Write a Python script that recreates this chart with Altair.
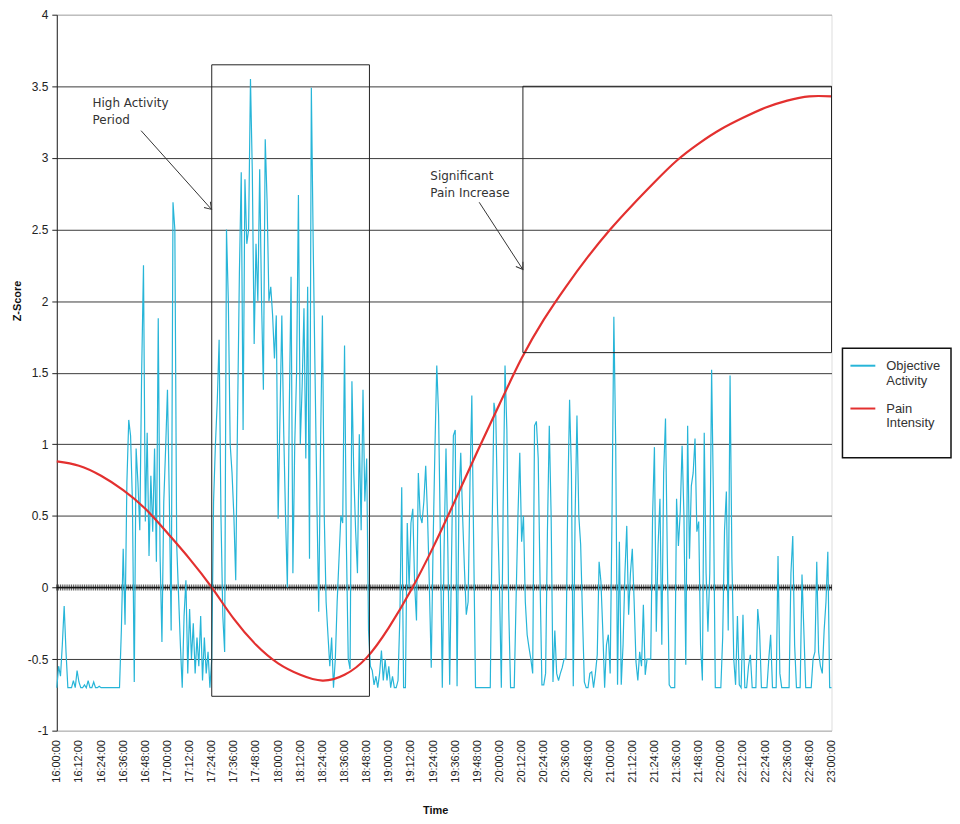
import json
import altair as alt
import pandas as pd

# ---------------- data ----------------
# one activity reading per minute, 16:00 .. 23:00 (minute index 0..420)
ACTIVITY = [
    -0.70, -0.55, -0.62, -0.40, -0.13, -0.45, -0.70, -0.70, -0.70, -0.65, -0.70, -0.58, -0.66,
    -0.70, -0.70, -0.68, -0.70, -0.65, -0.70, -0.70, -0.66, -0.70, -0.70, -0.69, -0.70,
    -0.70, -0.70, -0.70, -0.70, -0.70, -0.70, -0.70, -0.70, -0.70, -0.70,
    -0.30,
    0.27, -0.26, 0.73, 1.17, 1.06, 0.60, -0.66, 0.97, 0.73, 0.40, 1.50, 2.25,
    0.46, 1.08, 0.22, 0.78, 0.39, 0.97, 0.18, 1.88, 0.22, -0.38, 0.60, 0.97,
    1.38, 0.62, -0.30, 2.69, 2.50, 0.30, -0.05, -0.40, -0.70, -0.20, 0.05, -0.60,
    -0.15, -0.50, -0.25, -0.60, -0.35, -0.55, -0.20, -0.65, -0.35, -0.60, -0.45, -0.70,
    -0.50, 0.60, 1.00, 1.30, 1.73, 0.50, -0.20, -0.45, 2.50, 2.00, 1.00, 0.80,
    0.50, 0.05, 1.20, 2.20, 2.90, 1.10, 2.85, 2.40, 2.50, 3.55, 2.90, 1.70,
    2.40, 2.00, 2.92, 2.00, 1.38, 3.13, 2.70, 2.00, 2.10, 1.90, 1.60, 1.90,
    0.48, 1.20, 1.90, 1.10, 0.50, 0.00, 1.20, 2.17, 0.10, 1.00, 1.50, 2.74,
    1.00, 1.40, 1.95, 0.90, 2.10, 0.20, 3.49, 2.40, 1.50, 0.60, -0.17, 1.00,
    1.90, 0.50, -0.10, -0.33, -0.55, -0.35, -0.70, -0.50, -0.10, 0.20, 0.50, 0.45,
    1.69, 0.30, -0.50, -0.57, 1.44, 0.80, 0.40, 0.10, 1.07, 0.40, 1.38, 0.60,
    0.90, -0.30, -0.55, -0.58, -0.68, -0.62, -0.70, -0.60, -0.44, -0.65, -0.50, -0.65,
    -0.55, -0.70, -0.62, -0.70, -0.70, -0.65, -0.20, 0.70, -0.70, -0.70, 0.45, 0.00,
    0.45, 0.55, 0.02, -0.23, 0.80, 0.50, 0.45, 0.60, 0.85, 0.50, 0.00, -0.56,
    0.30, 0.97, 1.55, 1.20, 0.30, -0.70, 0.30, 0.97, 0.27, -0.68, 0.20, 1.06,
    1.10, -0.69, 0.60, 0.94, 0.50, 0.13, -0.19, -0.10, 0.73, 1.34, 0.30, -0.70,
    -0.70, -0.70, -0.70, -0.70, -0.70, -0.70, -0.70, -0.70, 0.40, 1.29, 1.20, 0.50,
    0.00, -0.70, 0.60, 1.55, 1.10, -0.15, -0.70, -0.70, -0.70, -0.08, 0.50, 0.94,
    0.32, 0.50, -0.10, -0.33, -0.42, -0.50, -0.60, 1.13, 1.16, 0.90, 0.04, -0.68,
    -0.68, -0.60, 0.40, 1.13, 0.50, -0.66, -0.30, -0.60, -0.65, -0.60, -0.56, -0.50,
    -0.50, 0.60, 1.31, 0.80, -0.69, 0.50, 1.20, 0.50, 0.30, -0.20, -0.66, -0.70,
    -0.70, -0.60, -0.59, -0.70, -0.60, -0.47, 0.18, 0.04, -0.30, -0.70, -0.40, -0.33,
    -0.60, 0.50, 1.89, 1.00, -0.68, 0.32, -0.68, -0.40, 0.10, 0.43, -0.19, 0.10,
    0.27, -0.10, -0.52, -0.65, -0.45, -0.55, -0.12, -0.61, -0.50, -0.50, -0.50, 0.50,
    0.98, -0.31, 0.30, 0.62, -0.40, 0.80, 1.18, 0.20, -0.68, -0.70, -0.70, -0.70,
    0.62, 0.29, 0.53, 0.99, 0.50, -0.54, 1.13, 0.20, 0.71, 0.80, 1.04, 0.39,
    0.46, -0.40, -0.65, 1.08, 0.10, -0.31, 0.10, 1.52, 0.60, -0.70, -0.70, -0.70,
    -0.70, -0.35, 0.40, 0.67, -0.30, 1.48, 0.20, -0.50, -0.68, -0.20, -0.68, -0.70,
    -0.19, -0.70, -0.70, -0.55, -0.47, -0.70, -0.70, -0.70, -0.15, -0.30, -0.70, -0.70,
    -0.70, -0.70, -0.50, -0.33, -0.70, -0.70, -0.70, 0.22, -0.60, -0.70, -0.70, -0.70,
    -0.70, -0.70, 0.10, 0.36, -0.40, -0.70, -0.70, -0.70, 0.09, -0.30, -0.70, -0.70,
    -0.70, -0.70, -0.50, -0.45, 0.18, -0.45, -0.55, -0.60, -0.30, -0.10, 0.25, -0.70, -0.70,
]
MINUTES = list(range(len(ACTIVITY)))

# pain intensity every 12 minutes
PAIN_MINUTES = list(range(0, 421, 12))
PAIN = [0.88, 0.85, 0.78, 0.68, 0.55, 0.38, 0.20, 0.00, -0.22, -0.40, -0.53, -0.61,
        -0.65, -0.61, -0.49, -0.28, -0.02, 0.28, 0.61, 0.95, 1.28, 1.60, 1.87, 2.10,
        2.31, 2.50, 2.67, 2.83, 2.98, 3.10, 3.20, 3.28, 3.35, 3.40, 3.43, 3.43]

TICK_LABELS = ["16:00:00", "16:12:00", "16:24:00", "16:36:00", "16:48:00", "17:00:00",
               "17:12:00", "17:24:00", "17:36:00", "17:48:00", "18:00:00", "18:12:00",
               "18:24:00", "18:36:00", "18:48:00", "19:00:00", "19:12:00", "19:24:00",
               "19:36:00", "19:48:00", "20:00:00", "20:12:00", "20:24:00", "20:36:00",
               "20:48:00", "21:00:00", "21:12:00", "21:24:00", "21:36:00", "21:48:00",
               "22:00:00", "22:12:00", "22:24:00", "22:36:00", "22:48:00", "23:00:00"]
Y_TICKS = [-1, -0.5, 0, 0.5, 1, 1.5, 2, 2.5, 3, 3.5, 4]

SERIES = ["Objective Activity", "Pain Intensity"]
COLORS = ["#27b5d8", "#e3302f"]

# annotations (minute index / z-score)
BOX_X = [84, 252.7]
BOX_X2 = [169.5, 420]
BOX_Y = [-0.76, 1.64]
BOX_Y2 = [3.65, 3.5]

ARROW_X = [45.7, 229]
ARROW_Y = [3.19, 2.69]
ARROW_X2 = [83.9, 252.7]
ARROW_Y2 = [2.64, 2.22]
ARROW_ANGLE = [48, 57]

NOTE_X = [19.4, 202.5]
NOTE_Y = [3.415, 2.905]
NOTE_TEXT = ["High Activity\nPeriod", "Significant\nPain Increase"]

# ---------------- frames ----------------
act_df = pd.DataFrame({"minute": MINUTES, "z": ACTIVITY, "series": SERIES[0], "zero": 0})
pain_df = pd.DataFrame({"minute": PAIN_MINUTES, "z": PAIN, "series": SERIES[1]})
box_df = pd.DataFrame({"x": BOX_X, "x2": BOX_X2, "y": BOX_Y, "y2": BOX_Y2})
arrow_df = pd.DataFrame({"x": ARROW_X, "y": ARROW_Y, "x2": ARROW_X2, "y2": ARROW_Y2,
                         "angle": ARROW_ANGLE})
note_df = pd.DataFrame({"x": NOTE_X, "y": NOTE_Y, "text": NOTE_TEXT})
frame_df = pd.DataFrame({"k": [0]})

label_expr = json.dumps(TICK_LABELS) + "[round(datum.value / 12)]"

xscale = alt.Scale(domain=[0, 420], nice=False, zero=False)
yscale = alt.Scale(domain=[-1, 4], nice=False, zero=False)

x_axis = alt.Axis(
    values=PAIN_MINUTES, labelExpr=label_expr, labelAngle=270, labelAlign="right",
    labelBaseline="middle", labelFont="Liberation Sans", labelFontSize=11,
    labelColor="#222", labelPadding=9, labelOverlap=False, labelBound=False,
    labelSeparation=0, ticks=False, domain=False, grid=False,
    title="Time", titleFont="Liberation Sans", titleFontSize=11, titleFontWeight="bold",
    titleColor="#111", titleX=380, titleY=80, titleBaseline="middle",
)
y_axis = alt.Axis(
    values=Y_TICKS, labelExpr="'' + datum.value", labelFont="Liberation Sans",
    labelFontSize=12, labelColor="#222", labelPadding=4, tickSize=5, tickColor="#222",
    domainColor="#222", domainWidth=1, labelOverlap=False,
    grid=True,
    gridColor={"condition": {"test": "datum.value == 4 || datum.value == -1",
                             "value": "#aaaaaa"}, "value": "#3a3a3a"},
    gridWidth=1,
    title="Z-Score", titleFont="Liberation Sans", titleFontSize=11,
    titleFontWeight="bold", titleColor="#111", titleX=-39, titleY=287,
    titleBaseline="middle",
)

color = alt.Color(
    "series:N",
    scale=alt.Scale(domain=SERIES, range=COLORS),
    legend=alt.Legend(
        title=None, orient="none", legendX=796, legendY=339, padding=0,
        rowPadding=7,
        symbolType="stroke", symbolStrokeWidth=2, symbolSize=625,
        labelFont="Liberation Sans", labelFontSize=13, labelColor="#333",
        labelBaseline="middle", labelOffset=10,
        labelExpr="datum.label == 'Objective Activity' ? ['Objective', 'Activity'] : ['Pain', 'Intensity']",
    ),
)


def X(field):
    return alt.X(field, scale=xscale, axis=x_axis)


def Y(field):
    return alt.Y(field, scale=yscale, axis=y_axis)


comb = alt.Chart(act_df).mark_tick(color="#111", thickness=1, size=6, orient="vertical").encode(
    x=X("minute:Q"), y=Y("zero:Q")
)
zero_rule = alt.Chart(act_df).mark_rule(color="#111", strokeWidth=1.5).encode(
    y=Y("mean(zero):Q")
)
activity = alt.Chart(act_df).mark_line(strokeWidth=1.2, interpolate="linear").encode(
    x=X("minute:Q"), y=Y("z:Q"), color=color
)
pain = alt.Chart(pain_df).mark_line(strokeWidth=2.2, interpolate="natural").encode(
    x=X("minute:Q"), y=Y("z:Q"), color=color
)

boxes = alt.Chart(box_df).mark_rect(filled=False, stroke="#222", strokeWidth=1).encode(
    x=X("x:Q"), x2="x2:Q", y=Y("y:Q"), y2="y2:Q",
)
arrows = alt.Chart(arrow_df).mark_rule(color="#333", strokeWidth=1).encode(
    x=X("x:Q"), x2="x2:Q", y=Y("y:Q"), y2="y2:Q",
)
heads = alt.Chart(arrow_df).mark_point(
    shape="M -1 -0.65 L 0 0 L -1 0.65", filled=False, stroke="#333", strokeWidth=1,
    size=170, opacity=1,
).encode(
    x=X("x2:Q"), y=Y("y2:Q"),
    angle=alt.Angle("angle:Q", scale=None),
)
notes = alt.Chart(note_df).mark_text(
    align="left", baseline="top", font="DejaVu Sans", fontSize=12, color="#333",
    lineBreak="\n", lineHeight=17,
).encode(
    x=X("x:Q"), y=Y("y:Q"), text="text:N"
)
# frame drawn round the legend
legend_frame = alt.Chart(frame_df).mark_rect(
    filled=False, stroke="#111", strokeWidth=1.5, clip=False
).encode(
    x=alt.value(789), x2=alt.value(898), y=alt.value(335), y2=alt.value(445)
)

chart = alt.layer(
    comb, zero_rule, activity, pain, boxes, arrows, heads, notes, legend_frame
).properties(
    width=778, height=719,
    autosize=alt.AutoSizeParams(type="none"),
    padding={"left": 49, "top": 5, "right": 121, "bottom": 88},
).configure_view(
    stroke="#aaaaaa", strokeWidth=1
).configure_axis(
    labelOverlap=False
).configure(background="white")

chart.save("out.html", embed_options={"renderer": "svg", "actions": False})
